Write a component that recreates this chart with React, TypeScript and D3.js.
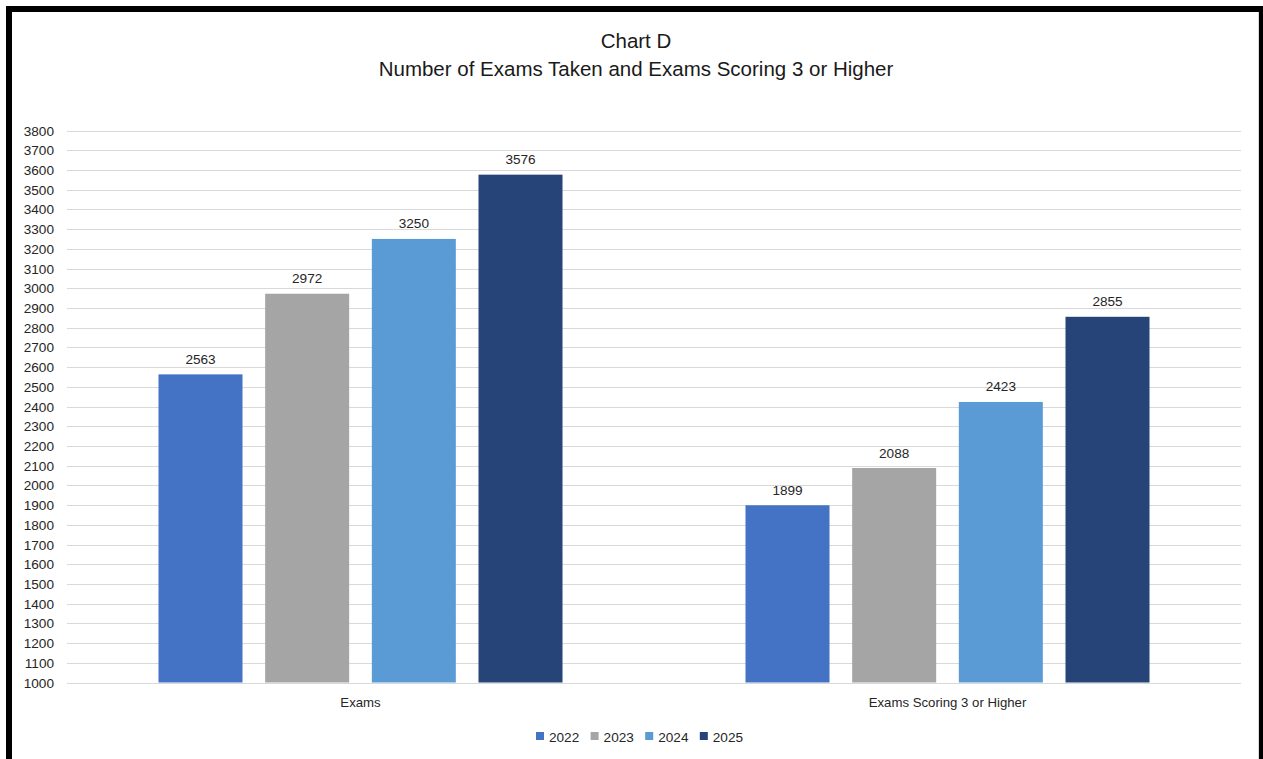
import React from 'react';
import * as d3 from 'd3';

const categories = ['Exams', 'Exams Scoring 3 or Higher'];
const years = ['2022', '2023', '2024', '2025'];
const values2022 = [2563, 1899];
const values2023 = [2972, 2088];
const values2024 = [3250, 2423];
const values2025 = [3576, 2855];
const yTicks = d3.range(1000, 3801, 100);
const colors = ['#4472C4', '#A5A5A5', '#5B9BD5', '#264478'];

const series = [values2022, values2023, values2024, values2025];

const W = 1263;
const H = 759;
const font = "'Liberation Sans', Arial, sans-serif";

const App = () => {
    const plotLeft = 67;
    const plotRight = 1241;

    const y = d3.scaleLinear().domain([1000, 3800]).range([682.5, 130.5]);
    const x0 = d3.scaleBand().domain(categories).range([plotLeft, plotRight]).padding(0);
    const bw = x0.bandwidth();
    const groupW = 404;
    const x1 = d3.scaleBand()
        .domain(years)
        .range([(bw - groupW) / 2, (bw + groupW) / 2])
        .paddingInner(0.2125)
        .paddingOuter(0);

    const legendX = d3.scaleBand().domain(years).range([536, 536 + 54.6 * 4]);

    return (
        <svg width={W} height={H} style={{ position: 'absolute', left: 0, top: 0, background: '#fff' }}>
            {/* frame */}
            <rect x={6} y={6} width={W} height={H} fill="#000" />
            <rect x={12} y={12} width={1247} height={H} fill="#fff" />
            <line x1={1258.5} x2={1258.5} y1={12} y2={H} stroke="#d9d9d9" />

            <g fontFamily={font} fill="#1a1a1a">
                <text x={636} y={47.5} textAnchor="middle" fontSize={20.5}>Chart D</text>
                <text x={636} y={75.5} textAnchor="middle" fontSize={20.5}>Number of Exams Taken and Exams Scoring 3 or Higher</text>
            </g>

            {/* gridlines */}
            <g>
                {yTicks.map(t => (
                    <line key={t} x1={plotLeft} x2={plotRight} y1={Math.round(y(t)) + 0.5} y2={Math.round(y(t)) + 0.5}
                        stroke="#d9d9d9" strokeWidth={1} />
                ))}
            </g>
            <g fontFamily={font} fontSize={13.6} fill="#262626" textAnchor="end">
                {yTicks.map(t => (
                    <text key={t} x={54} y={y(t) + 5}>{t}</text>
                ))}
            </g>

            {/* bars */}
            {categories.map((c, ci) => (
                <g key={c} transform={`translate(${x0(c)},0)`}>
                    {years.map((yr, si) => {
                        const v = series[si][ci];
                        return (
                            <g key={yr}>
                                <rect x={x1(yr)} y={y(v)} width={x1.bandwidth()} height={y(1000) - y(v)} fill={colors[si]} />
                                <text x={(x1(yr) ?? 0) + x1.bandwidth() / 2} y={y(v) - 10.5} textAnchor="middle"
                                    fontFamily={font} fontSize={13.6} fill="#262626">{v}</text>
                            </g>
                        );
                    })}
                    <text x={bw / 2} y={707} textAnchor="middle" fontFamily={font} fontSize={13.2} fill="#262626">{c}</text>
                </g>
            ))}

            {/* legend */}
            <g fontFamily={font} fontSize={13.6} fill="#262626">
                {years.map((yr, i) => (
                    <g key={yr} transform={`translate(${legendX(yr)},0)`}>
                        <rect x={0} y={732} width={8} height={8} fill={colors[i]} />
                        <text x={13} y={741.5}>{yr}</text>
                    </g>
                ))}
            </g>
        </svg>
    );
};

export default App;
